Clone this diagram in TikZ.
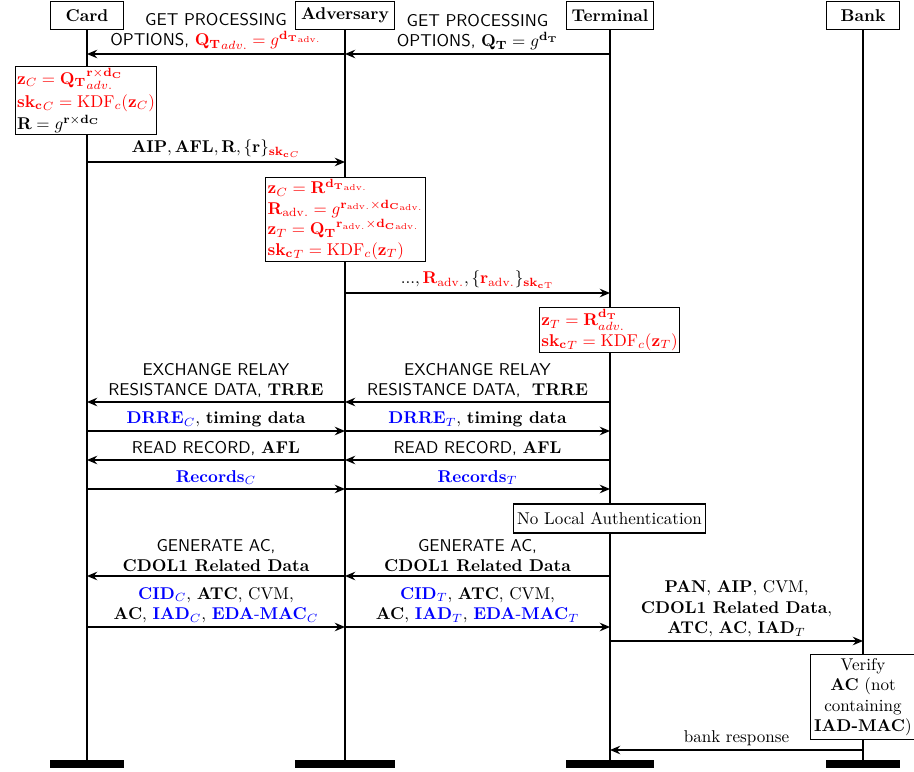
\documentclass[tikz,border=0pt]{standalone}
\usepackage{amsmath}
\usetikzlibrary{arrows.meta}
\tikzset{
  actor/.style={draw, semithick, font=\bfseries, minimum width=42.5pt, minimum height=16.5pt, inner sep=3pt, anchor=north},
  lifeline/.style={line width=1.1pt},
  msg/.style={-{Stealth[length=6pt,width=5pt,inset=2pt]}, thick},
  lbl/.style={midway, above, align=center, inner sep=2pt},
  note/.style={draw, semithick, fill=white, align=left, inner sep=1pt},
}
\begin{document}
\begin{tikzpicture}[x=0.0206cm, y=-0.0206cm]
\useasboundingbox (0,0) rectangle (914,772);

% participants
\node[actor] (card) at (87,1) {Card};
\node[actor] (adv) at (345,1) {Adversary};
\node[actor] (term) at (610,1) {Terminal};
\node[actor] (bank) at (863,1) {Bank};

% lifelines and end bars
\foreach \p in {card,adv,term,bank}{
  \draw[lifeline] (\p) -- (\p |- 0,760);
  \fill (\p.west |- 0,760) rectangle (\p.east |- 0,768);
}

% GPO
\draw[msg] (term |- 0,54) -- (adv |- 0,54) node[lbl] (gpoT) {\textsf{GET PROCESSING}\\\textsf{OPTIONS,} $\mathbf{Q_T}=g^{\mathbf{d_T}}$};
\draw[msg] (adv |- 0,54) -- (card |- 0,54) node[lbl] (gpoC) {\textsf{GET PROCESSING}\\\textsf{OPTIONS,} \textcolor{red}{$\mathbf{Q_T}_{adv.}=g^{\mathbf{d_T}_{\mathrm{adv.}}}$}};

\node[note] (keyC) at (86,100.5) {\textcolor{red}{$\mathbf{z}_C=\mathbf{Q_T}^{\mathbf{r}\times\mathbf{d_C}}_{adv.}$}\\[1.5pt]
  \textcolor{red}{$\mathbf{sk_c}_C=\mathrm{KDF}_c(\mathbf{z}_C)$}\\[1pt]
  $\mathbf{R}=g^{\mathbf{r}\times\mathbf{d_C}}$};

\draw[msg] (card |- 0,162) -- (adv |- 0,162) node[lbl] (aip) {$\mathbf{AIP},\mathbf{AFL},\mathbf{R},\{\mathbf{r}\}_{\textcolor{red}{\mathbf{sk_c}_C}}$};

\node[note] (keyA) at (345.5,219.5) {\textcolor{red}{$\mathbf{z}_C=\mathbf{R}^{\mathbf{d_T}_{\mathrm{adv.}}}$}\\
  \textcolor{red}{$\mathbf{R}_{\mathrm{adv.}}=g^{\mathbf{r}_{\mathrm{adv.}}\times\mathbf{d_C}_{\mathrm{adv.}}}$}\\
  \textcolor{red}{$\mathbf{z}_T=\mathbf{Q_T}^{\mathbf{r}_{\mathrm{adv.}}\times\mathbf{d_C}_{\mathrm{adv.}}}$}\\
  \textcolor{red}{$\mathbf{sk_c}_T=\mathrm{KDF}_c(\mathbf{z}_T)$}};

\draw[msg] (adv |- 0,293) -- (term |- 0,293) node[lbl] (radv) {$...,\textcolor{red}{\mathbf{R}_{\mathrm{adv.}}},\{\textcolor{red}{\mathbf{r}_{\mathrm{adv.}}}\}_{\textcolor{red}{\mathbf{sk_c}_{\mathrm{T}}}}$};

\node[note] (keyT) at (609.5,330) {\textcolor{red}{$\mathbf{z}_T=\mathbf{R}^{\mathbf{d_T}}_{adv.}$}\\
  \textcolor{red}{$\mathbf{sk_c}_T=\mathrm{KDF}_c(\mathbf{z}_T)$}};

% relay resistance
\draw[msg] (term |- 0,402) -- (adv |- 0,402) node[lbl] (errT) {\textsf{EXCHANGE RELAY}\\\textsf{RESISTANCE DATA,}\ \ \textbf{TRRE}};
\draw[msg] (adv |- 0,402) -- (card |- 0,402) node[lbl] (errC) {\textsf{EXCHANGE RELAY}\\\textsf{RESISTANCE DATA,} \textbf{TRRE}};
\foreach \a/\b/\s in {card/adv/C, adv/term/T}{
  \draw[msg] (\a |- 0,431) -- (\b |- 0,431) node[lbl] (drre\s) {\textcolor{blue}{$\mathbf{DRRE}_\s$}, \textbf{timing data}};
}

% read record
\foreach \a/\b/\s in {term/adv/T, adv/card/C}{
  \draw[msg] (\a |- 0,460) -- (\b |- 0,460) node[lbl] (rr\s) {\textsf{READ RECORD,} \textbf{AFL}};
}
\foreach \a/\b/\s in {card/adv/C, adv/term/T}{
  \draw[msg] (\a |- 0,489) -- (\b |- 0,489) node[lbl] (rec\s) {\textcolor{blue}{$\mathbf{Records}_\s$}};
}

\node[draw, semithick, fill=white, inner xsep=2pt, minimum height=17pt] (noauth) at (609.5,518.5) {No Local Authentication};

% generate AC
\foreach \a/\b/\s in {term/adv/T, adv/card/C}{
  \draw[msg] (\a |- 0,576) -- (\b |- 0,576) node[lbl] (gac\s) {\textsf{GENERATE AC,}\\\textbf{CDOL1 Related Data}};
}
\foreach \a/\b/\s in {card/adv/C, adv/term/T}{
  \draw[msg] (\a |- 0,627) -- (\b |- 0,627) node[lbl] (cid\s) {\textcolor{blue}{$\mathbf{CID}_\s$}, \textbf{ATC}, CVM,\\
    \textbf{AC}, \textcolor{blue}{$\mathbf{IAD}_\s$}, \textcolor{blue}{$\mathbf{EDA\text{-}MAC}_\s$}};
}

% bank
\draw[msg] (term |- 0,641) -- (bank |- 0,641) node[lbl] (auth) {\textbf{PAN}, \textbf{AIP}, CVM,\\\textbf{CDOL1 Related Data},\\\textbf{ATC}, \textbf{AC}, $\mathbf{IAD}_T$};
\node[draw, semithick, fill=white, align=center, inner sep=2pt] (verify) at (863,697) {Verify\\\textbf{AC} (not\\containing\\\textbf{IAD-MAC})};
\draw[msg] (bank |- 0,750) -- (term |- 0,750) node[lbl] (resp) {bank response};
\end{tikzpicture}
\end{document}
